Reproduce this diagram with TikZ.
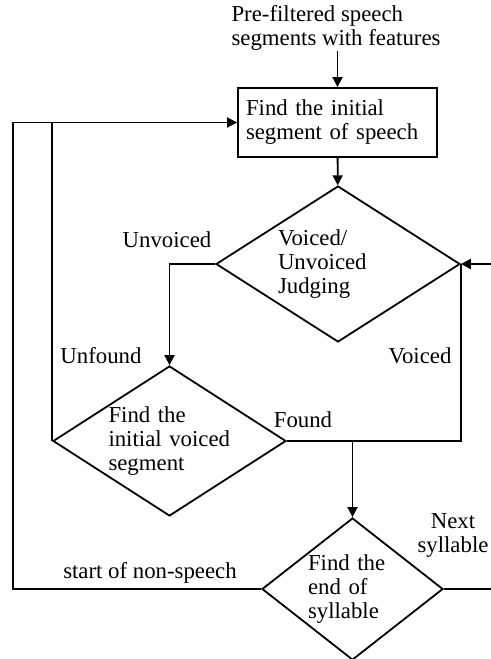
\documentclass[tikz,border=0pt]{standalone}
\usepackage{fontspec}
\setmainfont{Liberation Serif}
\usetikzlibrary{arrows.meta, shapes.geometric}
\tikzset{
  txt/.style={font=\fontsize{11.4}{12}\selectfont, inner sep=0pt, align=left},
  proc/.style={rectangle, draw, line width=0.9pt, minimum width=99.5pt, minimum height=34.5pt,
    inner xsep=4pt, text width=91.5pt, align=left, font=\fontsize{11.4}{12}\selectfont},
  decision/.style={diamond, draw, line width=0.9pt, inner sep=0pt, align=left,
    font=\fontsize{11.4}{12}\selectfont},
  line/.style={line width=0.9pt},
  arr/.style={-{Triangle[length=5pt, width=5pt]}, line width=0.9pt},
}
\begin{document}
\begin{tikzpicture}[x=0.5pt, y=-0.5pt]
    \useasboundingbox (0,0) rectangle (491,659);

    \node[txt] (src) at (336,28) {Pre-filtered speech\\segments with features};
    \node[proc] (find) at (337.5,122.5) {Find the initial\\segment of speech};
    \node[decision, aspect=1.564, minimum width=122pt, minimum height=78pt, text width=60pt] (judge) at (338,264)
      {Voiced/\\Unvoiced\\Judging};
    \node[decision, aspect=1.553, minimum width=116.5pt, minimum height=75pt, text width=61pt] (initv) at (169.5,441)
      {Find the\\initial voiced\\segment};
    \node[decision, aspect=1.275, minimum width=90.5pt, minimum height=71pt, text width=44.5pt] (endsyl) at (352.5,589)
      {Find the\\end of\\syllable};

    % branch labels
    \node[txt] (unv) at (167,240) {Unvoiced};
    \node[txt] (unf) at (101,356) {Unfound};
    \node[txt] (voi) at (420,356) {Voiced};
    \node[txt] (fnd) at (303,420) {Found};
    \node[txt, align=center] (nxt) at (453,535) {Next\\syllable};
    \node[txt] (nsp) at (150,573) {start of non-speech};

    \coordinate (loop) at (13,0);
    \coordinate (inR) at (491,264);
    \coordinate (outR) at (491,589);

    \draw[arr] (src.south -| find.north) -- (find.north);
    \draw[arr] (find) -- (judge);
    \draw[arr] (judge.west) -| (initv.north);
    \draw[line] (initv.east) -| (judge.east);
    \draw[arr] (initv.east -| endsyl.north) -- (endsyl.north);
    \draw[arr] (inR) -- (judge.east);
    \draw[line] (endsyl.east) -- (outR);
    \draw[arr] (endsyl.west) -| (loop |- find.west) -- (find.west);
    \draw[line] (initv.west) -- (initv.west |- find.west);
\end{tikzpicture}
\end{document}
